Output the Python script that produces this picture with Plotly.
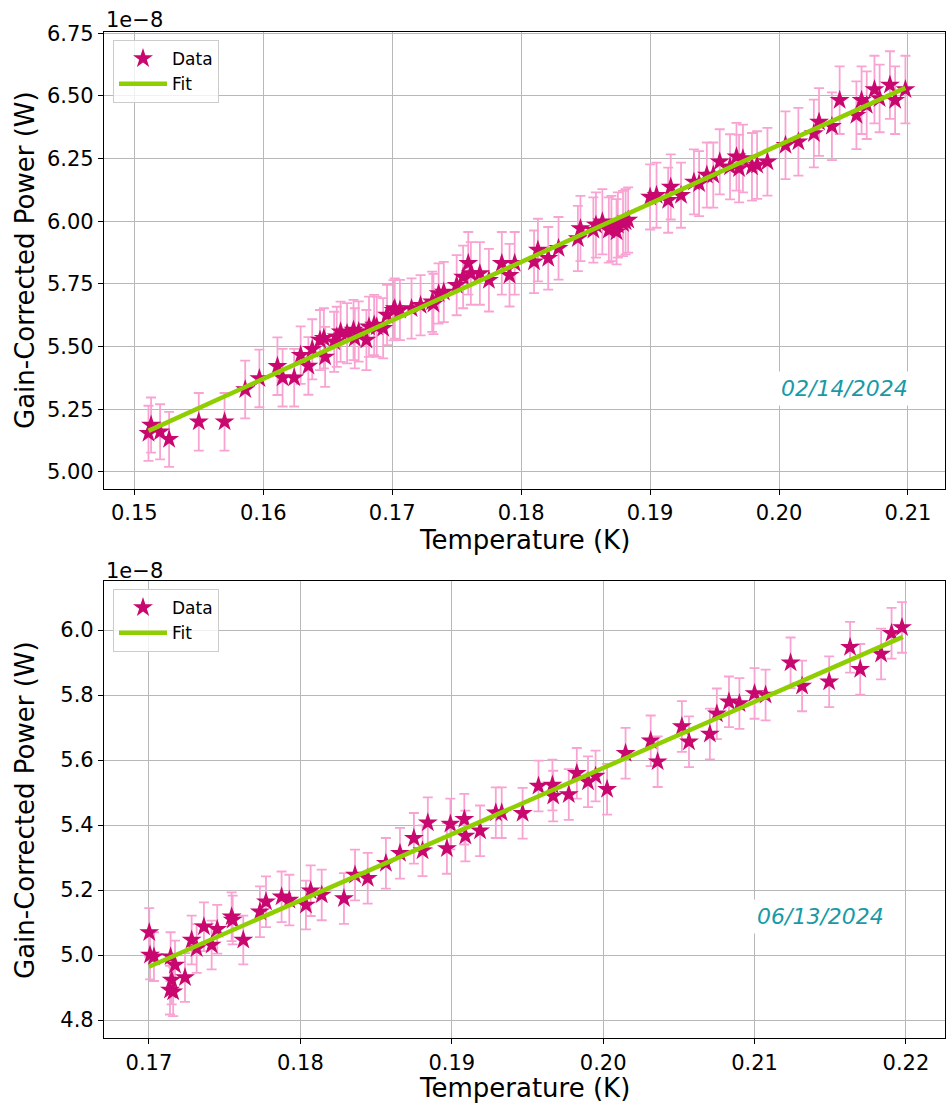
import plotly.graph_objects as go

# ---------------- Data (power in units of 1e-8 W) ----------------
temp_top = [0.1511, 0.1513, 0.1520, 0.1527, 0.1550, 0.1570, 0.1586, 0.1597, 0.1611, 0.1615,
            0.1624, 0.1629, 0.1635, 0.1638, 0.1644, 0.1647, 0.1648, 0.1655, 0.1657, 0.1660,
            0.1665, 0.1670, 0.1671, 0.1674, 0.1680, 0.1682, 0.1686, 0.1688, 0.1693, 0.1696,
            0.1701, 0.1702, 0.1706, 0.1715, 0.1722, 0.1731, 0.1732, 0.1736, 0.1740, 0.1750,
            0.1755, 0.1759, 0.1761, 0.1768, 0.1775, 0.1785, 0.1791, 0.1795, 0.1810, 0.1813,
            0.1821, 0.1829, 0.1844, 0.1846, 0.1856, 0.1858, 0.1863, 0.1868, 0.1870, 0.1874,
            0.1875, 0.1879, 0.1881, 0.1883, 0.1900, 0.1905, 0.1914, 0.1916, 0.1924, 0.1934,
            0.1938, 0.1944, 0.1949, 0.1954, 0.1962, 0.1967, 0.1969, 0.1972, 0.1979, 0.1983,
            0.1991, 0.2005, 0.2015, 0.2027, 0.2031, 0.2041, 0.2047, 0.2060, 0.2064, 0.2068,
            0.2074, 0.2078, 0.2086, 0.2090, 0.2098]
power_top = [5.154, 5.187, 5.160, 5.130, 5.200, 5.200, 5.329, 5.373, 5.422, 5.376,
             5.376, 5.466, 5.423, 5.489, 5.526, 5.533, 5.459, 5.519, 5.539, 5.559,
             5.553, 5.566, 5.533, 5.560, 5.526, 5.579, 5.586, 5.579, 5.573, 5.626,
             5.645, 5.652, 5.646, 5.652, 5.665, 5.679, 5.670, 5.712, 5.718, 5.745,
             5.778, 5.832, 5.792, 5.792, 5.765, 5.832, 5.785, 5.832, 5.838, 5.885,
             5.852, 5.892, 5.931, 5.971, 5.965, 5.985, 5.998, 5.965, 5.971, 5.958,
             5.985, 5.991, 5.998, 6.005, 6.097, 6.104, 6.084, 6.137, 6.104, 6.157,
             6.150, 6.184, 6.184, 6.237, 6.217, 6.257, 6.210, 6.250, 6.217, 6.224,
             6.237, 6.303, 6.317, 6.350, 6.396, 6.379, 6.483, 6.423, 6.483, 6.463,
             6.525, 6.490, 6.543, 6.483, 6.525]
err_top = [0.11, 0.11, 0.11, 0.11, 0.115, 0.115, 0.115, 0.115, 0.115, 0.115,
           0.115, 0.115, 0.115, 0.12, 0.12, 0.12, 0.12, 0.12, 0.12, 0.12,
           0.12, 0.12, 0.12, 0.12, 0.12, 0.12, 0.12, 0.12, 0.12, 0.12,
           0.12, 0.12, 0.12, 0.12, 0.12, 0.12, 0.12, 0.12, 0.12, 0.12,
           0.125, 0.125, 0.125, 0.125, 0.125, 0.125, 0.125, 0.125, 0.125, 0.125,
           0.125, 0.125, 0.13, 0.13, 0.13, 0.13, 0.13, 0.13, 0.13, 0.13,
           0.13, 0.13, 0.13, 0.13, 0.13, 0.13, 0.13, 0.13, 0.13, 0.13,
           0.13, 0.13, 0.13, 0.13, 0.13, 0.135, 0.135, 0.135, 0.135, 0.135,
           0.135, 0.135, 0.135, 0.135, 0.135, 0.135, 0.135, 0.135, 0.135, 0.135,
           0.135, 0.135, 0.135, 0.135, 0.135]
fit_temp_top = [0.1511, 0.2098]
fit_power_top = [5.164, 6.532]

temp_bot = [0.17002, 0.17007, 0.17033, 0.17143, 0.17150, 0.17139, 0.17160, 0.17172, 0.17238, 0.17282,
            0.17315, 0.17363, 0.17414, 0.17451, 0.17546, 0.17553, 0.17623, 0.17733, 0.17773, 0.17876,
            0.17927, 0.18037, 0.18068, 0.18141, 0.18288, 0.18361, 0.18445, 0.18565, 0.18658, 0.18750,
            0.18807, 0.18842, 0.18968, 0.18991, 0.19083, 0.19090, 0.19187, 0.19291, 0.19330, 0.19468,
            0.19573, 0.19665, 0.19670, 0.19773, 0.19826, 0.19900, 0.19950, 0.20026, 0.20148, 0.20314,
            0.20360, 0.20520, 0.20567, 0.20705, 0.20751, 0.20831, 0.20900, 0.21000, 0.21073, 0.21238,
            0.21314, 0.21493, 0.21631, 0.21698, 0.21836, 0.21905, 0.21974]
power_bot = [5.069, 5.000, 4.995, 4.995, 4.923, 4.892, 4.887, 4.969, 4.931, 5.046,
             5.020, 5.087, 5.031, 5.079, 5.118, 5.108, 5.046, 5.133, 5.164, 5.179,
             5.169, 5.154, 5.198, 5.185, 5.174, 5.246, 5.236, 5.282, 5.313, 5.359,
             5.321, 5.407, 5.328, 5.403, 5.418, 5.366, 5.382, 5.438, 5.438, 5.436,
             5.520, 5.523, 5.489, 5.494, 5.559, 5.533, 5.551, 5.510, 5.621, 5.659,
             5.595, 5.703, 5.656, 5.680, 5.742, 5.779, 5.774, 5.805, 5.800, 5.899,
             5.828, 5.841, 5.947, 5.879, 5.926, 5.990, 6.008]
err_bot = [0.075, 0.075, 0.075, 0.075, 0.075, 0.075, 0.075, 0.075, 0.075, 0.075,
           0.075, 0.075, 0.075, 0.075, 0.075, 0.075, 0.075, 0.078, 0.078, 0.078,
           0.078, 0.075, 0.078, 0.078, 0.078, 0.078, 0.078, 0.078, 0.078, 0.078,
           0.078, 0.078, 0.078, 0.078, 0.078, 0.078, 0.078, 0.078, 0.078, 0.078,
           0.078, 0.078, 0.078, 0.078, 0.078, 0.078, 0.078, 0.078, 0.078, 0.078,
           0.078, 0.078, 0.078, 0.078, 0.078, 0.078, 0.078, 0.078, 0.078, 0.078,
           0.078, 0.078, 0.078, 0.078, 0.078, 0.078, 0.078]
fit_temp_bot = [0.1700, 0.2198]
fit_power_bot = [4.964, 5.979]

xticks_top = [0.15, 0.16, 0.17, 0.18, 0.19, 0.20, 0.21]
yticks_top = [5.00, 5.25, 5.50, 5.75, 6.00, 6.25, 6.50, 6.75]
xticks_bot = [0.17, 0.18, 0.19, 0.20, 0.21, 0.22]
yticks_bot = [4.8, 5.0, 5.2, 5.4, 5.6, 5.8, 6.0]

# ---------------- Styles ----------------
W, H = 946, 1104
FONT = "DejaVu Sans"
STAR = "#c8076f"
ERR = "#f9a3d3"
FIT = "#8fce00"
DATE = "#179aa8"
GRID = "#b8b8b8"

def px(x):
    return x / W

def py(y):
    return 1 - y / H

fig = go.Figure()

for (tt, pp, ee, ft, fp, xa, ya, lg) in [
    (temp_top, power_top, err_top, fit_temp_top, fit_power_top, "x", "y", "legend"),
    (temp_bot, power_bot, err_bot, fit_temp_bot, fit_power_bot, "x2", "y2", "legend2"),
]:
    fig.add_trace(go.Scatter(
        x=tt, y=pp, mode="markers", name="Data", xaxis=xa, yaxis=ya, legend=lg,
        marker=dict(symbol="star", size=15, color=STAR, line=dict(width=0)),
        error_y=dict(type="data", array=ee, visible=True, color=ERR, thickness=1.8, width=5),
    ))
    fig.add_trace(go.Scatter(
        x=ft, y=fp, mode="lines", name="Fit", xaxis=xa, yaxis=ya, legend=lg,
        line=dict(color=FIT, width=4.5),
    ))

axis_common = dict(
    showgrid=True, gridcolor=GRID, gridwidth=1,
    showline=True, linecolor="black", linewidth=1.2, mirror=True,
    ticks="outside", ticklen=5, tickwidth=1.2, tickcolor="black",
    tickfont=dict(family=FONT, size=21, color="black"),
    zeroline=False, automargin=False,
)

legend_common = dict(
    xanchor="left", yanchor="top",
    bgcolor="rgba(255,255,255,0.8)", bordercolor="#cccccc", borderwidth=1,
    font=dict(family=FONT, size=17, color="black"), itemwidth=48,
)

fig.update_layout(
    template="none",
    width=W, height=H,
    margin=dict(l=0, r=0, t=0, b=0, pad=0, autoexpand=False),
    paper_bgcolor="white", plot_bgcolor="white",
    font=dict(family=FONT, color="black"),
    xaxis=dict(domain=[px(104), px(945)], anchor="y", range=[0.14765, 0.21287],
               tickvals=xticks_top, tickformat=".2f", **axis_common),
    yaxis=dict(domain=[py(489), py(31.7)], anchor="x", range=[4.932, 6.756],
               tickvals=yticks_top, tickformat=".2f", **axis_common),
    xaxis2=dict(domain=[px(104), px(945)], anchor="y2", range=[0.16703, 0.22258],
                tickvals=xticks_bot, tickformat=".2f", **axis_common),
    yaxis2=dict(domain=[py(1038.3), py(581)], anchor="x2", range=[4.7437, 6.1508],
                tickvals=yticks_bot, tickformat=".1f", **axis_common),
    legend=dict(x=px(113), y=py(40), **legend_common),
    legend2=dict(x=px(113), y=py(589), **legend_common),
    showlegend=True,
)

annotations = [
    dict(text="1e\u22128", x=px(104), y=py(20), xanchor="left", yanchor="middle"),
    dict(text="1e\u22128", x=px(104), y=py(571), xanchor="left", yanchor="middle"),
]
for a in annotations:
    a.update(xref="paper", yref="paper", showarrow=False,
             font=dict(family=FONT, size=21, color="black"))

labels = [
    dict(text="Temperature (K)", x=px(524.5), y=py(540), textangle=0),
    dict(text="Temperature (K)", x=px(524.5), y=py(1088), textangle=0),
    dict(text="Gain-Corrected Power (W)", x=px(25), y=py(260), textangle=-90),
    dict(text="Gain-Corrected Power (W)", x=px(25), y=py(810), textangle=-90),
]
for a in labels:
    a.update(xref="paper", yref="paper", showarrow=False, xanchor="center", yanchor="middle",
             font=dict(family=FONT, size=26, color="black"))
    annotations.append(a)

dates = [
    dict(text="<i>02/14/2024</i>", x=px(844), y=py(389)),
    dict(text="<i>06/13/2024</i>", x=px(820), y=py(916)),
]
for a in dates:
    a.update(xref="paper", yref="paper", showarrow=False, xanchor="center", yanchor="middle",
             bgcolor="white", borderpad=4,
             font=dict(family=FONT, size=22, color=DATE))
    annotations.append(a)

fig.update_layout(annotations=annotations)

fig.write_html("out.html")
